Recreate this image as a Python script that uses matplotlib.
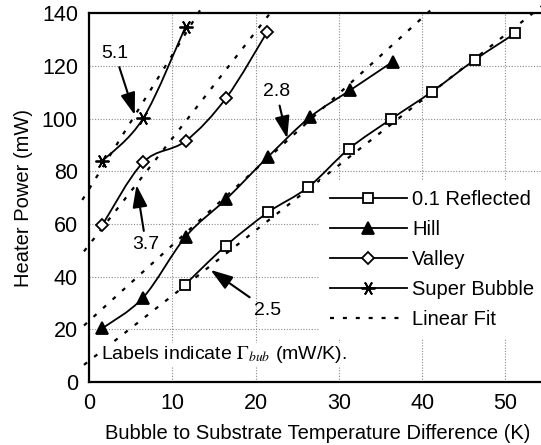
import numpy as np
import matplotlib.pyplot as plt
from matplotlib.path import Path
from matplotlib.patches import PathPatch
from matplotlib.lines import Line2D

plt.rcParams['font.family'] = ['Liberation Sans', 'DejaVu Sans']
plt.rcParams['mathtext.fontset'] = 'stix'

# measured series
refl_x = [11.5, 16.4, 21.5, 26.3, 31.2, 36.3, 41.2, 46.3, 51.2]
refl_y = [36.8, 51.6, 64.4, 73.9, 88.5, 99.9, 110.3, 122.3, 132.5]
hill_x = [1.6, 6.5, 11.6, 16.5, 21.5, 26.5, 31.4, 36.5]
hill_y = [20.3, 32.0, 55.1, 69.5, 85.5, 100.5, 110.9, 121.7]
valley_x = [1.6, 6.5, 11.6, 16.5, 21.4]
valley_y = [59.6, 83.4, 91.5, 108.0, 133.0]
super_x = [1.6, 6.5, 11.6]
super_y = [83.9, 100.1, 135.0]

# linear fits: slope, intercept, x range
fit_slope = [2.48, 2.88, 4.05, 5.1]
fit_icpt = [7.9, 23.1, 52.0, 73.2]
fit_x0 = [-0.6, -0.6, -0.6, -0.8]
fit_x1 = [54.5, 41.5, 22.0, 13.8]
fit_labels = ['2.5', '2.8', '3.7', '5.1']


def smooth_path(xs, ys):
    # catmull-rom style bezier through the points (like spreadsheet smoothed lines)
    p = np.column_stack([xs, ys]).astype(float)
    ext = np.vstack([p[0], p, p[-1]])
    verts = [p[0]]
    codes = [Path.MOVETO]
    for i in range(len(p) - 1):
        c1 = ext[i + 1] + (ext[i + 2] - ext[i]) / 6
        c2 = ext[i + 2] - (ext[i + 3] - ext[i + 1]) / 6
        verts += [c1, c2, ext[i + 2]]
        codes += [Path.CURVE4] * 3
    return Path(verts, codes)


fig = plt.figure(figsize=(5.41, 4.45), dpi=100)
ax = fig.add_axes([0.1645, 0.1422, 0.8466, 0.8275])

asterisk = (6, 2, 90)
series = [
    (refl_x, refl_y, 's', 'white', 7, '0.1 Reflected'),
    (hill_x, hill_y, '^', 'black', 8, 'Hill'),
    (valley_x, valley_y, 'D', 'white', 6, 'Valley'),
    (super_x, super_y, asterisk, 'black', 10, 'Super Bubble'),
]

dash = (0, (1.8, 4))
for s, b, x0, x1 in zip(fit_slope, fit_icpt, fit_x0, fit_x1):
    xx = np.array([x0, x1])
    ax.plot(xx, s * xx + b, color='black', lw=1.6, linestyle=dash,
            clip_on=False, zorder=2)

handles = []
for xs, ys, m, fc, ms, lab in series:
    ax.add_patch(PathPatch(smooth_path(xs, ys), facecolor='none',
                           edgecolor='black', lw=1.3, zorder=3))
    ax.plot(xs, ys, linestyle='none', marker=m, markersize=ms,
            markerfacecolor=fc, markeredgecolor='black', markeredgewidth=1.3,
            zorder=4, clip_on=False)
    handles.append(Line2D([], [], color='black', lw=1.3, marker=m,
                          markersize=ms, markerfacecolor=fc,
                          markeredgecolor='black', markeredgewidth=1.3,
                          label=lab))
handles.append(Line2D([], [], color='black', lw=1.6, linestyle=dash,
                      label='Linear Fit'))

arrow = dict(arrowstyle='-|>,head_length=0.9,head_width=0.3',
             color='black', lw=1.5, mutation_scale=15, shrinkA=2, shrinkB=0)
text_pos = [(21.5, 27.2), (22.5, 110.3), (6.85, 52.0), (3.1, 124.9)]
tips = [(14.6, 42.5), (23.8, 92.5), (5.7, 74.8), (5.5, 101.4)]
for lab, tp, tip in zip(fit_labels, text_pos, tips):
    ax.annotate(lab, xy=tip, xytext=tp, fontsize=14, ha='center',
                va='center', arrowprops=arrow, zorder=6)

ax.text(1.5, 10.2, r'Labels indicate $\Gamma_{\mathit{bub}}$ (mW/K).',
        fontsize=14, ha='left', va='center', zorder=5,
        bbox=dict(facecolor='white', edgecolor='none', pad=1))

ax.set_xlim(0, 55)
ax.set_ylim(0, 140)
ax.set_xticks(np.arange(0, 51, 10))
ax.set_yticks(np.arange(0, 141, 20))
ax.grid(True, linestyle=(0, (1, 1.5)), color='#8a8a8a', lw=0.8)
ax.tick_params(labelsize=15.5, length=0, pad=8)
for sp in ax.spines.values():
    sp.set_linewidth(1.6)
ax.set_xlabel('Bubble to Substrate Temperature Difference (K)', fontsize=14.5,
              labelpad=7)
ax.set_ylabel('Heater Power (mW)', fontsize=14.5, labelpad=6)

leg = ax.legend(handles=handles, loc='center left',
                bbox_to_anchor=(320 / 541, 0.4169),
                bbox_transform=fig.transFigure, fontsize=14.5,
                handlelength=3.8, handletextpad=0.27, labelspacing=0.55,
                borderpad=0.5, borderaxespad=0, frameon=True, fancybox=False)
leg.get_frame().set_edgecolor('none')
leg.get_frame().set_facecolor('white')
leg.get_frame().set_alpha(1)
leg.set_zorder(7)

fig.savefig('out.png', dpi=100)
